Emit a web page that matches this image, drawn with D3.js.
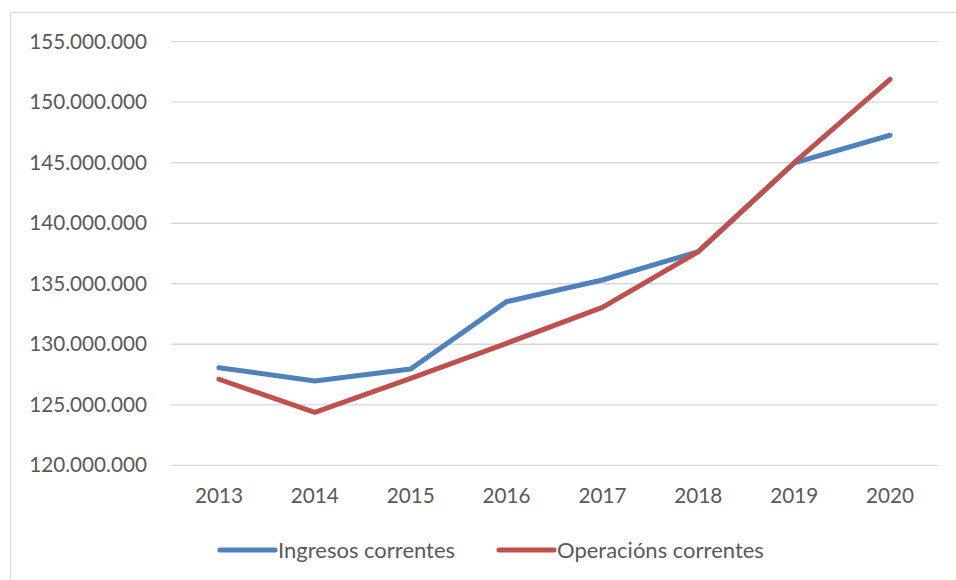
<!DOCTYPE html>
<html>
<head>
<meta charset="utf-8">
<script src="https://cdn.jsdelivr.net/npm/d3@7"></script>
<style>
  body { margin: 0; background: #fff; overflow: hidden; }
  svg { display: block; }
  svg text { font-family: Lato, "Open Sans", sans-serif; fill: #595959; }
</style>
</head>
<body>
<svg id="chart"></svg>
<script>
// Chart data
const years = ["2013", "2014", "2015", "2016", "2017", "2018", "2019", "2020"];
const ingresos = [128060000, 126970000, 127960000, 133520000, 135310000, 137650000, 144980000, 147270000];
const operacions = [127110000, 124380000, 127190000, 130080000, 133050000, 137650000, 145000000, 151890000];
const yTicks = [120000000, 125000000, 130000000, 135000000, 140000000, 145000000, 150000000, 155000000];

const series = [
    { name: "Ingresos correntes", values: ingresos, color: "#4F81BD" },
    { name: "Operacións correntes", values: operacions, color: "#C0504D" }
];

const width = 956;
const height = 580;
const margin = { top: 41.7, right: 16, bottom: 114.7, left: 171 };

const svg = d3.select("#chart")
    .attr("width", width)
    .attr("height", height);

// Chart border: only the left and top edges fall inside the frame
svg.append("path")
    .attr("d", `M10.5,${height} V12.5 H${width}`)
    .attr("fill", "none")
    .attr("stroke", "#d9d9d9")
    .attr("stroke-width", 1);

const innerWidth = width - margin.left - margin.right;
const innerHeight = height - margin.top - margin.bottom;

const plot = svg.append("g")
    .attr("transform", `translate(${margin.left},${margin.top})`);

const x = d3.scaleBand()
    .domain(years)
    .range([0, innerWidth - 2]);

const y = d3.scaleLinear()
    .domain([120000000, 155000000])
    .range([innerHeight, 0]);

const fmt = d => d3.format(",")(d).replace(/,/g, ".");

// Gridlines
plot.append("g")
    .selectAll("line")
    .data(yTicks)
    .join("line")
    .attr("x1", 0)
    .attr("x2", innerWidth - 2)
    .attr("y1", d => y(d))
    .attr("y2", d => y(d))
    .attr("stroke", "#d9d9d9")
    .attr("stroke-width", 1.3);

// Y axis labels
const yAxis = plot.append("g")
    .call(d3.axisLeft(y).tickValues(yTicks).tickFormat(fmt).tickSize(0).tickPadding(24));
yAxis.select(".domain").remove();
yAxis.selectAll("text")
    .attr("font-size", 20.7)
    .style("font-family", "Lato, 'Open Sans', sans-serif")
    .attr("fill", "#595959");

// X axis labels
const xAxis = plot.append("g")
    .attr("transform", `translate(0,${innerHeight})`)
    .call(d3.axisBottom(x).tickSize(0).tickPadding(23));
xAxis.select(".domain").remove();
xAxis.selectAll("text")
    .attr("font-size", 20.7)
    .style("font-family", "Lato, 'Open Sans', sans-serif")
    .attr("fill", "#595959");

// Lines
const line = d3.line()
    .x((d, i) => x(years[i]) + x.bandwidth() / 2)
    .y(d => y(d));

plot.selectAll(".series")
    .data(series)
    .join("path")
    .attr("class", "series")
    .attr("d", d => line(d.values))
    .attr("fill", "none")
    .attr("stroke", d => d.color)
    .attr("stroke-width", 5)
    .attr("stroke-linecap", "round")
    .attr("stroke-linejoin", "round");

// Legend
const legendX = [220, 499];
const legend = svg.append("g")
    .selectAll("g")
    .data(series)
    .join("g")
    .attr("transform", (d, i) => `translate(${legendX[i]},550)`);

legend.append("line")
    .attr("x1", 0)
    .attr("x2", 55)
    .attr("stroke", d => d.color)
    .attr("stroke-width", 5)
    .attr("stroke-linecap", "round");

legend.append("text")
    .attr("x", 58)
    .attr("dy", "0.35em")
    .attr("font-size", 22)
    .text(d => d.name);
</script>
</body>
</html>
